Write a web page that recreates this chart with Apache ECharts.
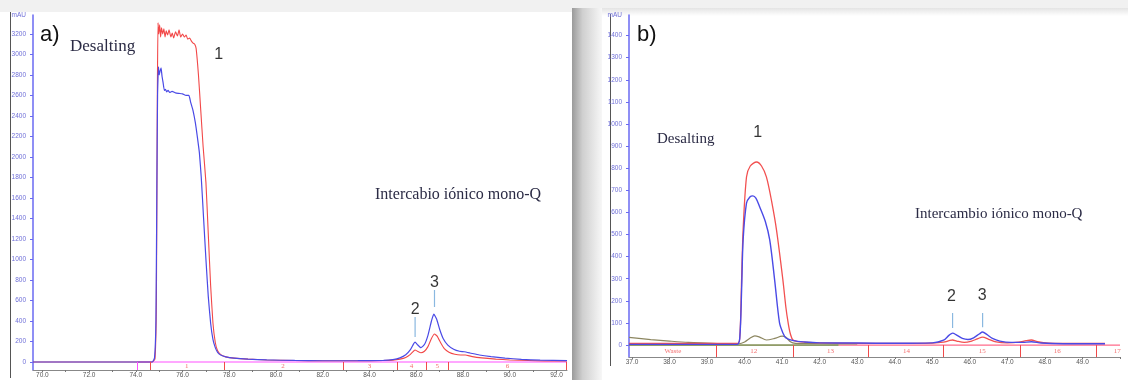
<!DOCTYPE html>
<html><head><meta charset="utf-8">
<script src="https://cdn.jsdelivr.net/npm/echarts@6/dist/echarts.min.js"></script>
<style>html,body{margin:0;padding:0;background:#fff}#c{width:1128px;height:380px}</style>
</head><body><div id="c"></div>
<script>
// ---------- Panel a data (time min, mAU) ----------
const redA = [[69.6,0],[74.7,0],[74.82,30],[74.88,600],[74.92,2600],[74.95,3310],[74.98,3200],[75.02,3290],[75.06,3170],[75.1,3260],[75.15,3200],[75.2,3250],[75.25,3170],[75.3,3230],[75.36,3190],[75.42,3240],[75.5,3170],[75.56,3210],[75.62,3160],[75.7,3220],[75.78,3180],[75.85,3240],[75.92,3170],[76.0,3200],[76.08,3170],[76.15,3190],[76.22,3150],[76.3,3160],[76.38,3130],[76.45,3110],[76.52,3100],[76.58,3060],[76.68,2800],[76.78,2450],[76.88,2100],[77.0,1750],[77.1,1250],[77.2,750],[77.3,380],[77.4,190],[77.5,110],[77.65,70],[77.85,50],[78.2,38],[78.8,28],[79.6,20],[80.8,15],[82,12],[83.5,12],[84.6,14],[85.0,18],[85.3,28],[85.55,45],[85.75,75],[85.88,105],[85.95,117],[86.05,105],[86.2,90],[86.35,105],[86.5,150],[86.65,230],[86.78,273],[86.9,250],[87.05,185],[87.2,130],[87.4,95],[87.65,75],[87.9,68],[88.1,68],[88.35,55],[88.8,40],[89.4,28],[90,20],[90.8,14],[91.6,10],[92.45,10]];
const blueA = [[69.6,0],[74.7,0],[74.8,40],[74.86,400],[74.9,1700],[74.93,2600],[74.97,2880],[75.0,2800],[75.04,2840],[75.08,2870],[75.12,2790],[75.17,2720],[75.22,2650],[75.27,2660],[75.32,2635],[75.38,2650],[75.45,2630],[75.55,2640],[75.7,2625],[75.85,2620],[76.0,2615],[76.15,2600],[76.27,2600],[76.35,2530],[76.45,2450],[76.55,2330],[76.63,2200],[76.72,2040],[76.8,1800],[76.9,1400],[77.0,1000],[77.1,640],[77.2,380],[77.3,220],[77.4,140],[77.5,95],[77.65,65],[77.85,50],[78.2,38],[78.8,28],[79.6,20],[80.8,15],[82,12],[83.5,13],[84.6,16],[85.0,24],[85.3,40],[85.55,70],[85.75,120],[85.88,175],[85.95,195],[86.05,170],[86.2,140],[86.35,170],[86.5,260],[86.65,400],[86.75,468],[86.87,420],[87.0,320],[87.15,230],[87.35,165],[87.6,125],[87.85,105],[88.05,100],[88.3,88],[88.7,68],[89.2,52],[89.8,38],[90.5,26],[91.3,18],[92.45,14]];
const fracBoundsA = [74.6,77.8,82.88,85.2,86.44,87.38,92.4];
const fracStartA = 74.08;
const fracLabelsA = ['1','2','3','4','5','6'];
const fracLabelPosA = [76.18,80.3,84.0,85.8,86.9,89.9];
const xTicksA = [70,72,74,76,78,80,82,84,86,88,90,92];
const yTicksA = [0,200,400,600,800,1000,1200,1400,1600,1800,2000,2200,2400,2600,2800,3000,3200];
const peaksA = [['1',77.55,2995],['2',85.95,507],['3',86.78,771]];
const pointersA = [[85.95,439,244],[86.78,702,537]];

// ---------- Panel b data ----------
const redB = [[36.92,8],[38,8],[39,7],[39.8,7],[39.87,30],[39.92,300],[39.96,520],[40.05,760],[40.15,810],[40.32,828],[40.45,810],[40.58,761],[40.72,650],[40.85,520],[41.02,294],[41.1,170],[41.16,100],[41.22,50],[41.29,23],[41.5,14],[42,10],[43,8],[44,8],[45,9],[45.3,13],[45.45,20],[45.54,23],[45.65,18],[45.85,12],[46.05,18],[46.2,28],[46.34,36],[46.5,26],[46.7,14],[47.0,10],[47.3,13],[47.5,20],[47.64,23],[47.8,15],[48.1,9],[49,7],[49.6,7]];
const blueB = [[36.92,3],[39.8,3],[39.87,30],[39.92,250],[39.96,475],[40.05,642],[40.14,670],[40.22,675],[40.3,665],[40.4,626],[40.55,560],[40.67,475],[40.8,294],[40.93,100],[41.02,55],[41.1,32],[41.3,20],[41.6,14],[42,10],[43,9],[44,8],[45,10],[45.3,22],[45.45,45],[45.54,54],[45.65,45],[45.8,30],[45.95,25],[46.1,33],[46.25,50],[46.34,59],[46.45,48],[46.6,30],[46.8,18],[47.1,12],[47.4,12],[47.64,15],[47.9,9],[48.5,6],[49.6,6]];
const oliveB = [[36.92,35],[37.5,25],[38,18],[38.5,12],[39,9],[39.5,6],[39.85,6],[40.0,14],[40.15,32],[40.27,42],[40.4,36],[40.58,23],[40.8,30],[41.0,40],[41.1,35],[41.22,15],[41.35,8],[42,6],[43,5]];
const greenB = [[36.92,0],[42.5,0]];
const fracBoundsB = [39.25,41.3,43.3,45.3,47.35,49.37];
const fracLabelsB = ['Waste','12','13','14','15','16','17'];
const fracLabelPosB = [38.09,40.24,42.29,44.31,46.33,48.33,49.93];
const xTicksB = [37,38,39,40,41,42,43,44,45,46,47,48,49];
const yTicksB = [0,100,200,300,400,500,600,700,800,900,1000,1100,1200,1300,1400];
const peaksB = [['1',40.35,959],['2',45.51,217],['3',46.33,222]];
const pointersB = [[45.54,145,77],[46.34,145,81]];

// ---------- axis ranges ----------
const A = {xmin:69.6, xmax:92.45, ymin:-78, ymax:3385};
const B = {xmin:36.92, xmax:50.0, ymin:-54, ymax:1493};

function intTicks(a,b){const r=[];for(let v=Math.ceil(a);v<=b;v++)r.push(v);return r;}

function yAxisCfg(idx, R, ticks){
  return {type:'value', gridIndex:idx, min:R.ymin, max:R.ymax,
    splitLine:{show:false},
    axisLine:{show:true,lineStyle:{color:'#6a6af2',width:1.5}},
    axisTick:{show:true,length:3,lineStyle:{color:'#6a6af2'},customValues:ticks},
    axisLabel:{customValues:ticks.concat([R.ymax]),fontSize:6.5,color:'#6f6fd8',margin:7,fontFamily:'Liberation Sans',
      formatter:v=> (Math.abs(v-R.ymax)<1e-6?'mAU':String(v))}};
}
function xAxisCfg(idx, R, ticks, lineColor){
  return {type:'value', gridIndex:idx, min:R.xmin, max:R.xmax,
    splitLine:{show:false},
    axisLine:{show:true,onZero:false,lineStyle:{color:lineColor,width:1}},
    axisTick:{show:true,length:2,lineStyle:{color:'#777'},customValues:intTicks(R.xmin,R.xmax)},
    axisLabel:{customValues:ticks,fontSize:6.5,color:'#555',margin:2,fontFamily:'Liberation Sans',
      formatter:v=>v.toFixed(1)}};
}
function lineSeries(idx, data, color, w, smooth){
  return {type:'line', xAxisIndex:idx, yAxisIndex:idx, data:data, showSymbol:false, symbol:'none',
    smooth:smooth, lineStyle:{color:color,width:w}, silent:true, z:3};
}
function fracSeries(idx, start, bounds, ymin, baseColor, tickColor, startColor){
  const ml = [];
  if (start!=null) ml.push([{coord:[start,0],lineStyle:{color:startColor}},{coord:[start,ymin]}]);
  bounds.forEach(b=>ml.push([{coord:[b,0]},{coord:[b,ymin]}]));
  const R = idx===0?A:B;
  return {type:'line', xAxisIndex:idx, yAxisIndex:idx, data:[[start!=null?start:R.xmin,0],[R.xmax,0]],
    showSymbol:false, symbol:'none', lineStyle:{color:baseColor,width:1.2}, silent:true, z:2,
    markLine:{silent:true,symbol:'none',label:{show:false},lineStyle:{color:tickColor,width:1,type:'solid'},data:ml}};
}
function fracLabelSeries(idx, labels, pos, yv, size){
  return {type:'scatter', xAxisIndex:idx, yAxisIndex:idx, symbolSize:0, silent:true,
    data:labels.map((t,i)=>({name:t,value:[pos[i],yv]})),
    label:{show:true,position:'inside',formatter:p=>p.name,color:'#f04a4a',fontSize:size,fontFamily:'Liberation Serif'}};
}
function peakLabelSeries(idx, peaks){
  return {type:'scatter', xAxisIndex:idx, yAxisIndex:idx, symbolSize:0, silent:true,
    data:peaks.map(p=>({name:p[0],value:[p[1],p[2]]})),
    label:{show:true,position:'inside',formatter:p=>p.name,color:'#000',fontSize:16,fontFamily:'Liberation Sans'}};
}
function pointerSeries(idx, ptrs){
  const d=[];
  ptrs.forEach(p=>{d.push([p[0],p[1]]);d.push([p[0],p[2]]);d.push([p[0],'-']);});
  return {type:'line', xAxisIndex:idx, yAxisIndex:idx, data:d, connectNulls:false, showSymbol:false, symbol:'none',
    lineStyle:{color:'#8ab8e0',width:1.2}, silent:true};
}

const chart = echarts.init(document.getElementById('c'), null, {renderer:'canvas'});
chart.setOption({
  backgroundColor:'#ffffff',
  animation:false,
  graphic:[
    {type:'rect',shape:{x:0,y:0,width:1128,height:12},style:{fill:'#f1f1f1'},z:-10,silent:true},
    {type:'rect',shape:{x:572,y:8,width:30,height:372},style:{fill:new echarts.graphic.LinearGradient(0,0,1,0,[{offset:0,color:'#9a9a9a'},{offset:0.35,color:'#cfcfcf'},{offset:1,color:'#f7f7f7'}])},z:-10,silent:true},
    {type:'rect',shape:{x:602,y:8,width:526,height:8},style:{fill:new echarts.graphic.LinearGradient(0,0,0,1,[{offset:0,color:'#e4e4e4'},{offset:1,color:'#ffffff'}])},z:-9,silent:true},
    {type:'line',shape:{x1:10.5,y1:12,x2:10.5,y2:378},style:{stroke:'#555',lineWidth:1},silent:true},
    {type:'line',shape:{x1:610.5,y1:14,x2:610.5,y2:366},style:{stroke:'#555',lineWidth:1},silent:true},
    {type:'text',left:40,top:24,style:{text:'a)',fontSize:22,fontFamily:'Liberation Sans',fill:'#111'}},
    {type:'text',left:70,top:38,style:{text:'Desalting',fontSize:17,fontFamily:'Liberation Serif',fill:'#2b2b45'}},
    {type:'text',left:375,top:187,style:{text:'Intercabio iónico mono-Q',fontSize:16,fontFamily:'Liberation Serif',fill:'#2b2b45'}},
    {type:'text',left:637,top:24,style:{text:'b)',fontSize:22,fontFamily:'Liberation Sans',fill:'#111'}},
    {type:'text',left:657,top:132,style:{text:'Desalting',fontSize:15,fontFamily:'Liberation Serif',fill:'#2b2b45'}},
    {type:'text',left:915,top:207,style:{text:'Intercambio iónico mono-Q',fontSize:15,fontFamily:'Liberation Serif',fill:'#2b2b45'}}
  ],
  grid:[
    {left:33, top:15, width:534, height:355, containLabel:false},
    {left:629, top:15, width:491, height:342, containLabel:false}
  ],
  xAxis:[xAxisCfg(0,A,xTicksA,'#888'), xAxisCfg(1,B,xTicksB,'#888')],
  yAxis:[yAxisCfg(0,A,yTicksA), yAxisCfg(1,B,yTicksB)],
  series:[
    fracSeries(0, fracStartA, fracBoundsA, A.ymin, '#ff50ff', '#f04a4a', '#ff50ff'),
    fracLabelSeries(0, fracLabelsA, fracLabelPosA, -38, 7),
    lineSeries(0, redA, '#f24848', 1.1, 0.15),
    lineSeries(0, blueA, '#4a4ae6', 1.2, 0.15),
    peakLabelSeries(0, peaksA),
    pointerSeries(0, pointersA),
    fracSeries(1, null, fracBoundsB, B.ymin, '#ff6a8a', '#f04a4a', '#f04a4a'),
    fracLabelSeries(1, fracLabelsB, fracLabelPosB, -27, 7),
    lineSeries(1, greenB, '#38a838', 1, false),
    lineSeries(1, oliveB, '#8c8660', 1.2, 0.3),
    lineSeries(1, redB, '#f25050', 1.3, 0.3),
    lineSeries(1, blueB, '#4a4ae6', 1.4, 0.3),
    peakLabelSeries(1, peaksB),
    pointerSeries(1, pointersB)
  ]
});
</script></body></html>
